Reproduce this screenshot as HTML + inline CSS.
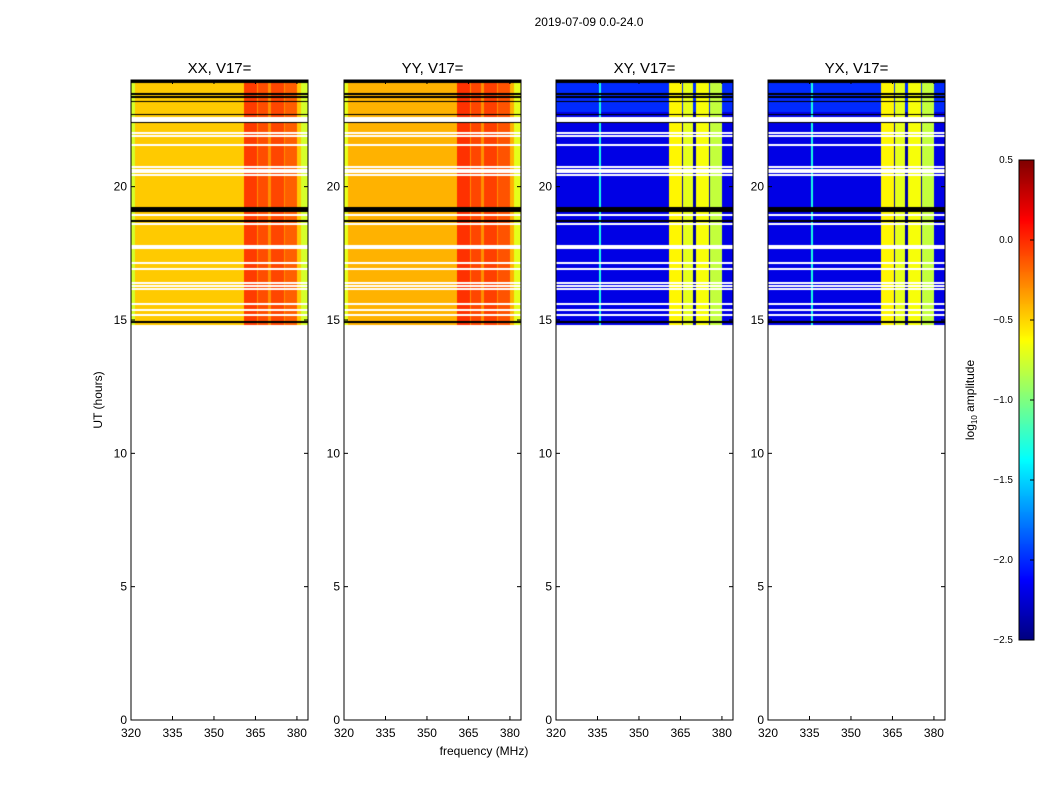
<!DOCTYPE html>
<html><head><meta charset="utf-8"><style>
body{margin:0;background:#fff;width:1050px;height:800px;position:relative;overflow:hidden;font-family:"Liberation Sans",sans-serif}
canvas{position:absolute}
svg{position:absolute;left:0;top:0}
</style></head><body>
<canvas id="c0" width="177" height="640" style="left:131px;top:80px"></canvas>
<canvas id="c1" width="177" height="640" style="left:344px;top:80px"></canvas>
<canvas id="c2" width="177" height="640" style="left:556px;top:80px"></canvas>
<canvas id="c3" width="177" height="640" style="left:768px;top:80px"></canvas>
<canvas id="cb" width="15" height="480" style="left:1019px;top:160px"></canvas>
<svg id="ov" width="1050" height="800"></svg>
<script>
// ---- data ----
const panelTitles=["XX, V17=","YY, V17=","XY, V17=","YX, V17="];
const panelLefts=[131,344,556,768];
const xTicks=[320,335,350,365,380];
const yTicks=[0,5,10,15,20];
const cbTicks=[0.5,0.0,-0.5,-1.0,-1.5,-2.0,-2.5];
const cbLabels=["0.5","0.0","\u22120.5","\u22121.0","\u22121.5","\u22122.0","\u22122.5"];
const baseValues=[-0.47,-0.4,-2.2,-2.2];
const edgeValues=[-0.75,-0.7,-2.2,-2.2];
const bandStarts=[360.8,365.8,370.5,375.6];
const bandEnds=[365.5,369.5,375.2,379.9];
const bandValuesXX=[-0.05,-0.1,-0.08,-0.15];
const bandValuesYY=[-0.02,-0.08,-0.06,-0.12];
const bandValuesXY=[-0.6,-0.7,-0.65,-0.8];
const bandValuesYX=[-0.6,-0.7,-0.65,-0.8];
const gapValues=[-0.3,-0.3,-2.4,-2.4];
const dataStartHour=14.8;
const whiteRows=[[22.62,22.4],[22.04,21.98],[21.93,21.87],[21.59,21.53],[20.77,20.71],[20.66,20.6],[20.58,20.52],[20.47,20.41],[18.97,18.91],[18.63,18.57],[17.81,17.75],[17.73,17.67],[17.17,17.11],[16.94,16.88],[16.42,16.36],[16.31,16.25],[16.19,16.13],[15.63,15.57],[15.41,15.35],[15.22,15.16]];
const blackRows=[[24,23.9],[23.5,23.45],[23.39,23.34],[23.21,23.16],[22.72,22.67],[22.42,22.37],[19.22,19.04],[18.74,18.69],[14.98,14.88]];
const vmin=-2.5,vmax=0.5,fmin=320,fmax=384,hmax=24;
// ---- helpers ----
function jet(v){let t=(v-vmin)/(vmax-vmin);t=Math.max(0,Math.min(1,t));
 const f=x=>Math.max(0,Math.min(1,x));
 return [f(1.5-Math.abs(4*t-3)),f(1.5-Math.abs(4*t-2)),f(1.5-Math.abs(4*t-1))].map(c=>Math.round(c*255));}
const W=177,H=640;
const xs=f=>(f-fmin)/(fmax-fmin)*W;
const ys=h=>(hmax-h)/hmax*H;
const bandVals=[bandValuesXX,bandValuesYY,bandValuesXY,bandValuesYX];
function colValue(p,f){
 for(let i=0;i<bandStarts.length;i++) if(f>=bandStarts[i]&&f<bandEnds[i]) return bandVals[p][i];
 if(f>=bandStarts[0]&&f<bandEnds[bandEnds.length-1]) return gapValues[p];
 if(f<321.5||f>=381.5) return edgeValues[p];
 if(p>=2&&f>=335.6&&f<336.2) return -1.3;
 return baseValues[p];}
for(let p=0;p<4;p++){
 const ctx=document.getElementById('c'+p).getContext('2d');
 const img=ctx.createImageData(W,H);
 for(let y=0;y<H;y++){const h=hmax-(y+0.5)/H*hmax;
  let mode='data';
  if(h<dataStartHour) mode='white';
  for(const r of whiteRows) if(h<=r[0]&&h>=r[1]) mode='white';
  for(const r of blackRows) if(h<=r[0]&&h>=r[1]) mode='black';
  for(let x=0;x<W;x++){const f=fmin+(x+0.5)/W*(fmax-fmin);let c;
   if(mode==='white')c=[255,255,255];else if(mode==='black')c=[0,0,0];
   else{let v=colValue(p,f); if(p>=2&&h>22.8&&v<-2) v=-2.0; c=jet(v);}
   const k=(y*W+x)*4;img.data[k]=c[0];img.data[k+1]=c[1];img.data[k+2]=c[2];img.data[k+3]=255;}}
 ctx.putImageData(img,0,0);}
{const ctx=document.getElementById('cb').getContext('2d');
 for(let y=0;y<480;y++){const c=jet(vmax-(y+0.5)/480*(vmax-vmin));ctx.fillStyle=`rgb(${c})`;ctx.fillRect(0,y,15,1);}}
// ---- overlay ----
const ov=document.getElementById('ov');const NS='http://www.w3.org/2000/svg';
function el(tag,attrs,text){const e=document.createElementNS(NS,tag);for(const k in attrs)e.setAttribute(k,attrs[k]);if(text!==undefined)e.textContent=text;ov.appendChild(e);return e;}
let t=el('text',{x:589,y:26,'font-size':12,'text-anchor':'middle'},'2019-07-09 0.0-24.0');


for(let p=0;p<4;p++){const L=panelLefts[p],T=80;
 let r=el('rect',{x:L,y:T,width:W,height:H,fill:'none',stroke:'#000','stroke-width':1});
 
 
 let tt=el('text',{x:L+W/2,y:73,'font-size':15,'text-anchor':'middle'},panelTitles[p]);
 
 
 for(const v of xTicks){const x=L+xs(v);
  el('line',{x1:x,x2:x,y1:T+H,y2:T+H-4,stroke:'#000'});el('line',{x1:x,x2:x,y1:T,y2:T+4,stroke:'#000'});
  let lt=el('text',{x:x,y:T+H+17,'font-size':12,'text-anchor':'middle'},v);
  
  }
 for(const v of yTicks){const y=T+ys(v);
  el('line',{x1:L,x2:L+4,y1:y,y2:y,stroke:'#000'});el('line',{x1:L+W,x2:L+W-4,y1:y,y2:y,stroke:'#000'});
  let lt=el('text',{x:L-4,y:y+4,'font-size':12,'text-anchor':'end'},v);
  
  }}
t=el('text',{x:484,y:755,'font-size':12,'text-anchor':'middle'},'frequency (MHz)');


t=el('text',{x:0,y:0,'font-size':12,'text-anchor':'middle',transform:'translate(102,400) rotate(-90)'},'UT (hours)');


el('rect',{x:1019,y:160,width:15,height:480,fill:'none',stroke:'#000'});
for(let i=0;i<cbTicks.length;i++){const y=160+(vmax-cbTicks[i])/(vmax-vmin)*480;
 el('line',{x1:1034,x2:1030,y1:y,y2:y,stroke:'#000'});
 let lt=el('text',{x:1013,y:y+3,'font-size':10,'text-anchor':'end'},cbLabels[i]);
 
 }
t=el('text',{x:0,y:0,'font-size':12,'text-anchor':'middle',transform:'translate(974,400) rotate(-90)'});
t.innerHTML='log<tspan font-size="8" dy="3">10</tspan><tspan dy="-3"> amplitude</tspan>';


</script>
</body></html>
